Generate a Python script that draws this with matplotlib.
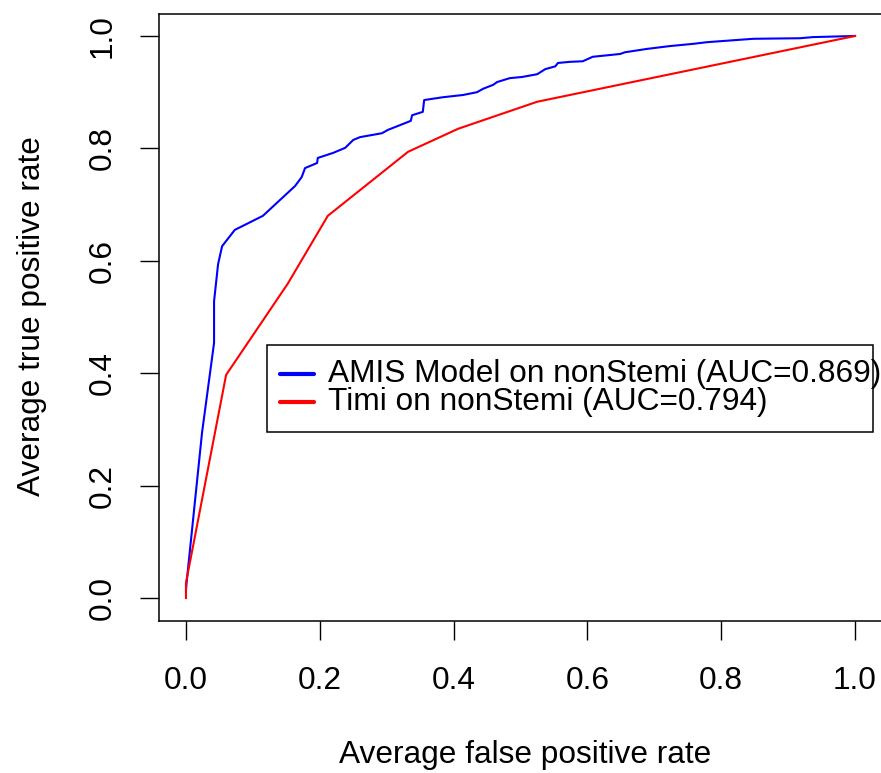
import matplotlib
matplotlib.use("Agg")
import matplotlib.pyplot as plt
from matplotlib.patches import Rectangle

# ROC curve of the AMIS model
amis_fpr = [0.0, 0.001, 0.024, 0.042, 0.042, 0.048, 0.054, 0.073, 0.115, 0.163,
            0.173, 0.178, 0.196, 0.197, 0.220, 0.238, 0.250, 0.260, 0.293, 0.302,
            0.317, 0.336, 0.338, 0.354, 0.356, 0.384, 0.414, 0.435, 0.444, 0.459,
            0.465, 0.484, 0.502, 0.525, 0.537, 0.552, 0.556, 0.574, 0.593, 0.608,
            0.649, 0.656, 0.689, 0.723, 0.758, 0.779, 0.848, 0.918, 0.937, 1.0]
amis_tpr = [0.014, 0.028, 0.294, 0.454, 0.528, 0.594, 0.626, 0.655, 0.680, 0.733,
            0.749, 0.765, 0.774, 0.783, 0.792, 0.801, 0.815, 0.820, 0.827, 0.833,
            0.840, 0.849, 0.859, 0.865, 0.886, 0.891, 0.895, 0.900, 0.906, 0.913,
            0.918, 0.925, 0.927, 0.932, 0.941, 0.946, 0.952, 0.954, 0.955, 0.963,
            0.968, 0.971, 0.977, 0.982, 0.986, 0.989, 0.995, 0.996, 0.998, 1.0]

# ROC curve of the TIMI score
timi_fpr = [0.0, 0.0, 0.060, 0.152, 0.212, 0.332, 0.407, 0.525, 1.0]
timi_tpr = [0.0, 0.027, 0.397, 0.559, 0.680, 0.794, 0.835, 0.883, 1.0]

labels = ["AMIS Model on nonStemi (AUC=0.869)", "Timi on nonStemi (AUC=0.794)"]
colors = ["blue", "red"]
ticks = [0.0, 0.2, 0.4, 0.6, 0.8, 1.0]

plt.rcParams["font.family"] = ["Liberation Sans", "DejaVu Sans"]
fs = 22.8

W, H = 881, 773
fig = plt.figure(figsize=(W / 100, H / 100), dpi=100)
# plot region in pixels: x 159.2..881.8, y 13.5..620.5
ax = fig.add_axes([159.2 / W, (H - 620.5) / H, 722.6 / W, 607.0 / H])
ax.set_xlim(-0.04, 1.04)
ax.set_ylim(-0.04, 1.04)

ax.plot(amis_fpr, amis_tpr, color=colors[0], lw=1.5)
ax.plot(timi_fpr, timi_tpr, color=colors[1], lw=1.5)

ax.set_xticks(ticks)
ax.set_yticks(ticks)
ax.set_xticklabels(["%.1f" % t for t in ticks])
ax.set_yticklabels(["%.1f" % t for t in ticks], rotation=90, va="center")
ax.tick_params(direction="out", length=13.7, width=1, labelsize=fs, color="black")
ax.tick_params(axis="x", pad=19)
ax.tick_params(axis="y", pad=16)
for s in ax.spines.values():
    s.set_linewidth(1.1)
    s.set_color("black")
# the right edge of the box falls just outside the image in the original
ax.spines["right"].set_visible(False)

fig.text(525 / W, 1 - 755 / H, "Average false positive rate", fontsize=fs,
         ha="center", va="center")
fig.text(32 / W, 1 - 316 / H, "Average true positive rate", fontsize=fs,
         ha="center", va="center", rotation=90)

# legend drawn by hand so the text can overflow its box as in the original
ax.add_patch(Rectangle((0.121, 0.295), 0.906, 0.155, fill=False, edgecolor="black",
                       lw=1.1, clip_on=False, zorder=5))
for i, (lab, col) in enumerate(zip(labels, colors)):
    yy = 0.399 - i * 0.05
    ax.plot([0.141, 0.191], [yy, yy], color=col, lw=3, solid_capstyle="round",
            clip_on=False, zorder=6)
    ax.text(0.212, yy, lab, fontsize=fs, va="center", ha="left", clip_on=False,
            zorder=6)

fig.savefig("out.png", dpi=100)
